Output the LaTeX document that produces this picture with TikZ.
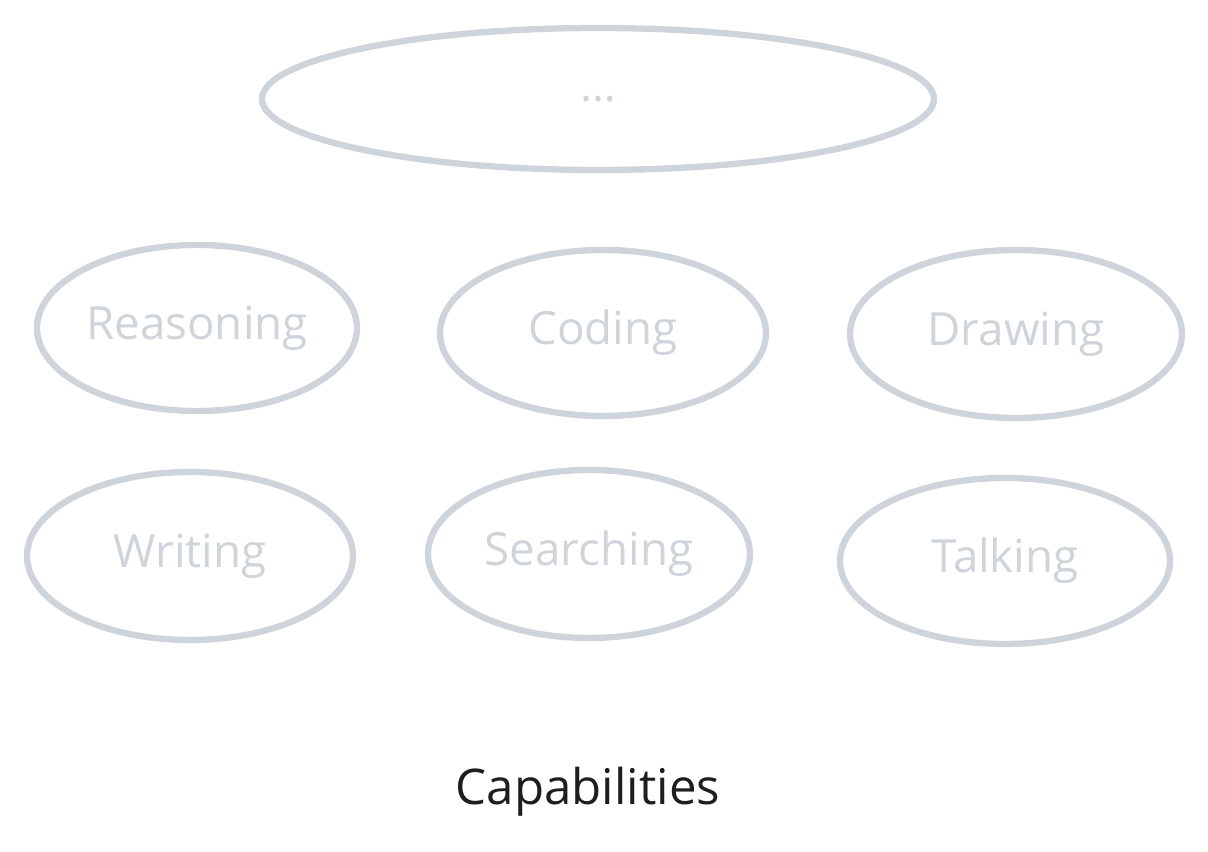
\documentclass[tikz,border=0pt]{standalone}
\usepackage{fontspec}
\setmainfont{Open Sans}
\usetikzlibrary{shapes.geometric, positioning}
\definecolor{skillgray}{HTML}{CED4DA}
\definecolor{inkblack}{HTML}{1E1E1E}

\begin{document}
\begin{tikzpicture}[
    skill/.style={ellipse, draw=skillgray, line width=1.8pt, inner sep=0pt,
        text=skillgray, font=\fontsize{13}{15}\selectfont}
]
        \useasboundingbox (0,0) rectangle (12.08,8.52);

        % Placeholder on top
        \node[skill, minimum width=6.72cm, minimum height=1.42cm] (more) at (5.98, 7.53) {\ldots};

        % Capability bubbles
        \foreach \n/\x/\y/\w/\h/\t in {reason/1.97/5.24/3.20/1.66/Reasoning,
                                   code/6.03/5.19/3.26/1.66/Coding,
                                   draw/10.16/5.18/3.32/1.68/Drawing,
                                   write/1.90/2.96/3.26/1.68/Writing,
                                   search/5.89/2.98/3.22/1.68/Searching,
                                   talk/10.05/2.91/3.30/1.66/Talking} {
            \node[skill, minimum width=\w cm, minimum height=\h cm] (\n) at (\x, \y) {\t};
        }

        % Caption
        \node[text=inkblack, font=\fontsize{14}{16}\selectfont] (caption) at (5.88, 0.60) {Capabilities};
    \end{tikzpicture}
\end{document}
